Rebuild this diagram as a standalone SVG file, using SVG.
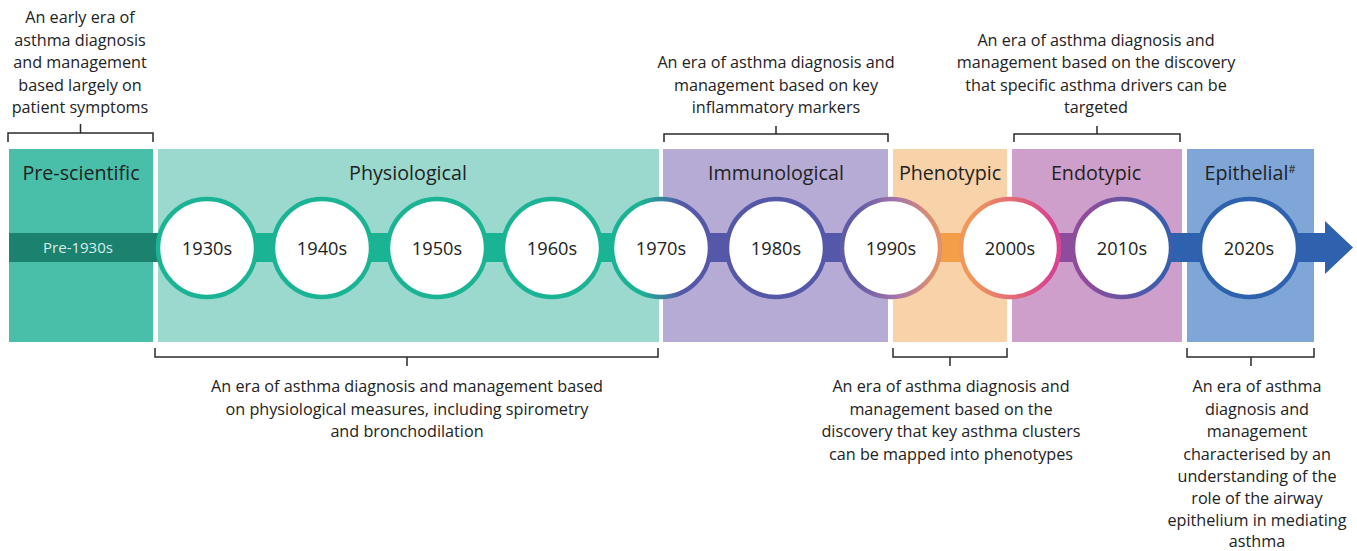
<svg xmlns="http://www.w3.org/2000/svg" width="1357" height="551" viewBox="0 0 1357 551">
  <defs>
    <style>
      text { font-family: "Open Sans", "Noto Sans", "Liberation Sans", sans-serif; fill: #222; text-anchor: middle; }
      .desc { font-size: 16.2px; }
      .title { font-size: 19.7px; }
      .year { font-size: 18.2px; }
      .pre { font-size: 15px; fill: #d6eee9; }
      .ring { fill: #fff; stroke-width: 4.5; }
      .bracket { fill: none; stroke: #2b2b2b; stroke-width: 1.5; }
    </style>
    <linearGradient id="g1970" x1="0" y1="0" x2="1" y2="0">
      <stop offset="0.3" stop-color="#1ab394"/>
      <stop offset="0.7" stop-color="#5558a8"/>
    </linearGradient>
    <linearGradient id="g1990" x1="0" y1="0" x2="1" y2="0">
      <stop offset="0.15" stop-color="#5f5ba8"/>
      <stop offset="0.55" stop-color="#a575aa"/>
      <stop offset="0.95" stop-color="#e0906a"/>
    </linearGradient>
    <linearGradient id="g2000" x1="0" y1="0" x2="1" y2="0">
      <stop offset="0.1" stop-color="#f2975a"/>
      <stop offset="0.9" stop-color="#d8448f"/>
    </linearGradient>
    <linearGradient id="g2010" x1="0" y1="0" x2="1" y2="0">
      <stop offset="0.15" stop-color="#8e4c9c"/>
      <stop offset="0.9" stop-color="#3a5eab"/>
    </linearGradient>
  </defs>

  <!-- era panels -->
  <g id="era-prescientific">
    <rect x="9" y="149" width="144" height="193" fill="#49bfaa"/>
    <text class="title" x="81" y="180">Pre-scientific</text>
  </g>
  <g id="era-physiological">
    <rect x="158" y="149" width="501" height="193" fill="#9bd8ce"/>
    <text class="title" x="408" y="180">Physiological</text>
  </g>
  <g id="era-immunological">
    <rect x="663" y="149" width="225" height="193" fill="#b6abd4"/>
    <text class="title" x="776" y="180">Immunological</text>
  </g>
  <g id="era-phenotypic">
    <rect x="893" y="149" width="114" height="193" fill="#f8d2a8"/>
    <text class="title" x="950" y="180">Phenotypic</text>
  </g>
  <g id="era-endotypic">
    <rect x="1012" y="149" width="170" height="193" fill="#cf9fcb"/>
    <text class="title" x="1096" y="180">Endotypic</text>
  </g>
  <g id="era-epithelial">
    <rect x="1187" y="149" width="127" height="193" fill="#7fa6d7"/>
    <text class="title" x="1250" y="180">Epithelial<tspan font-size="11" dy="-7">#</tspan></text>
  </g>

  <!-- timeline band and arrow -->
  <g id="connectors">
    <rect x="9" y="233" width="152" height="29" fill="#1c8270"/>
    <rect x="160" y="233" width="501" height="29" fill="#1ab394"/>
    <rect x="661" y="233" width="230" height="29" fill="#5558a8"/>
    <rect x="891" y="233" width="119" height="29" fill="#f59e4a"/>
    <rect x="1010" y="233" width="112" height="29" fill="#8e4c9c"/>
    <rect x="1122" y="233" width="204" height="29" fill="#2f62ae"/>
    <polygon points="1325,221 1353,247.5 1325,274" fill="#2f62ae"/>
  </g>
  <text class="pre" x="78" y="253">Pre-1930s</text>

  <!-- decade markers -->
  <g id="d1930"><circle class="ring" cx="207" cy="248" r="49" stroke="#1ab394"/><text class="year" x="207" y="255">1930s</text></g>
  <g id="d1940"><circle class="ring" cx="322" cy="248" r="49" stroke="#1ab394"/><text class="year" x="322" y="255">1940s</text></g>
  <g id="d1950"><circle class="ring" cx="437" cy="248" r="49" stroke="#1ab394"/><text class="year" x="437" y="255">1950s</text></g>
  <g id="d1960"><circle class="ring" cx="552" cy="248" r="49" stroke="#1ab394"/><text class="year" x="552" y="255">1960s</text></g>
  <g id="d1970"><circle class="ring" cx="661" cy="248" r="49" stroke="url(#g1970)"/><text class="year" x="661" y="255">1970s</text></g>
  <g id="d1980"><circle class="ring" cx="776" cy="248" r="49" stroke="#5558a8"/><text class="year" x="776" y="255">1980s</text></g>
  <g id="d1990"><circle class="ring" cx="891" cy="248" r="49" stroke="url(#g1990)"/><text class="year" x="891" y="255">1990s</text></g>
  <g id="d2000"><circle class="ring" cx="1010" cy="248" r="49" stroke="url(#g2000)"/><text class="year" x="1010" y="255">2000s</text></g>
  <g id="d2010"><circle class="ring" cx="1122" cy="248" r="49" stroke="url(#g2010)"/><text class="year" x="1122" y="255">2010s</text></g>
  <g id="d2020"><circle class="ring" cx="1249" cy="248" r="49" stroke="#2f62ae"/><text class="year" x="1249" y="255">2020s</text></g>

  <!-- brackets -->
  <g id="brackets">
    <path class="bracket" d="M8,142 V133 H153 V142 M80.5,133 V124"/>
    <path class="bracket" d="M664,142 V134 H888 V142 M776,134 V126"/>
    <path class="bracket" d="M1014,142 V134 H1180 V142 M1097,134 V126"/>
    <path class="bracket" d="M155,348 V357 H658 V348 M407,357 V366"/>
    <path class="bracket" d="M893,348 V357 H1007 V348 M950,357 V366"/>
    <path class="bracket" d="M1187,348 V357 H1314 V348 M1251,357 V366"/>
  </g>

  <!-- era descriptions -->
  <g id="note-prescientific">
    <text class="desc" x="80" y="23">An early era of</text>
    <text class="desc" x="80" y="45.5">asthma diagnosis</text>
    <text class="desc" x="80" y="68">and management</text>
    <text class="desc" x="80" y="90.5">based largely on</text>
    <text class="desc" x="80" y="113">patient symptoms</text>
  </g>
  <g id="note-immunological">
    <text class="desc" x="776" y="68">An era of asthma diagnosis and</text>
    <text class="desc" x="776" y="90.5">management based on key</text>
    <text class="desc" x="776" y="113">inflammatory markers</text>
  </g>
  <g id="note-endotypic">
    <text class="desc" x="1096" y="45.5">An era of asthma diagnosis and</text>
    <text class="desc" x="1096" y="68">management based on the discovery</text>
    <text class="desc" x="1096" y="90.5">that specific asthma drivers can be</text>
    <text class="desc" x="1096" y="113">targeted</text>
  </g>
  <g id="note-physiological">
    <text class="desc" x="407" y="392">An era of asthma diagnosis and management based</text>
    <text class="desc" x="407" y="414.5">on physiological measures, including spirometry</text>
    <text class="desc" x="407" y="437">and bronchodilation</text>
  </g>
  <g id="note-phenotypic">
    <text class="desc" x="951" y="392">An era of asthma diagnosis and</text>
    <text class="desc" x="951" y="414.5">management based on the</text>
    <text class="desc" x="951" y="437">discovery that key asthma clusters</text>
    <text class="desc" x="951" y="459.5">can be mapped into phenotypes</text>
  </g>
  <g id="note-epithelial">
    <text class="desc" x="1257" y="392">An era of asthma</text>
    <text class="desc" x="1257" y="414.5">diagnosis and</text>
    <text class="desc" x="1257" y="437">management</text>
    <text class="desc" x="1257" y="459.5">characterised by an</text>
    <text class="desc" x="1257" y="482">understanding of the</text>
    <text class="desc" x="1257" y="504">role of the airway</text>
    <text class="desc" x="1257" y="526">epithelium in mediating</text>
    <text class="desc" x="1257" y="546.5">asthma</text>
  </g>
</svg>
